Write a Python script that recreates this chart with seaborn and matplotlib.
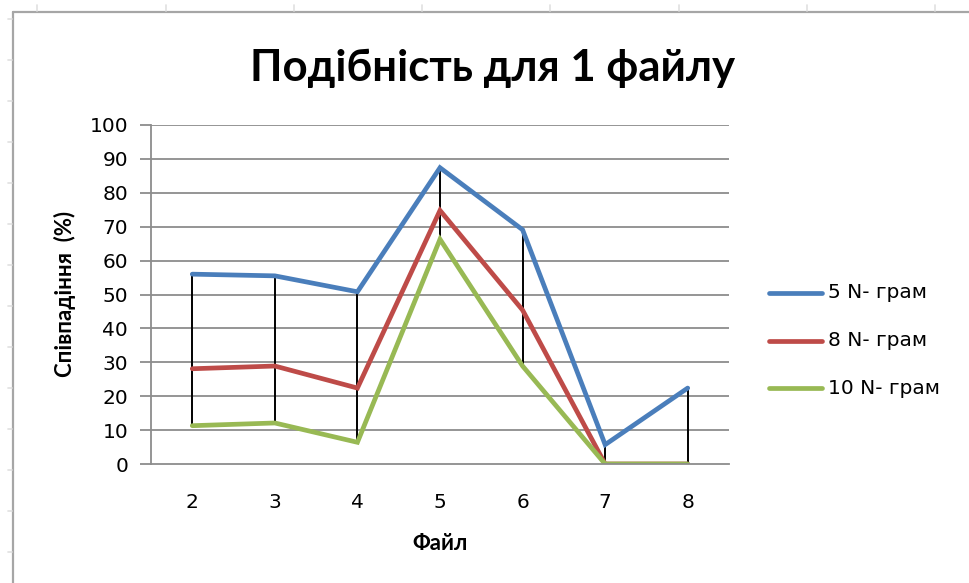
import matplotlib
matplotlib.use("Agg")
import matplotlib.pyplot as plt
from matplotlib.lines import Line2D
import numpy as np
import pandas as pd
import seaborn as sns

# Data: similarity (%) per file for three n-gram sizes
files = [2, 3, 4, 5, 6, 7, 8]
ngram5 = [56.0, 55.5, 50.8, 87.4, 69.1, 5.7, 22.4]
ngram8 = [28.1, 28.9, 22.4, 74.8, 45.4, 0.0, 0.0]
ngram10 = [11.3, 12.1, 6.4, 66.3, 28.9, 0.0, 0.0]
series_names = ["5 N- грам", "8 N- грам", "10 N- грам"]
y_ticks = list(range(0, 101, 10))

title = "Подібність для 1 файлу"
x_title = "Файл"
y_title = "Співпадіння  (%)"

colors = ["#4a7ebb", "#be4b48", "#98b954"]

df = pd.DataFrame({
    "Файл": files * 3,
    "value": ngram5 + ngram8 + ngram10,
    "series": [series_names[0]] * 7 + [series_names[1]] * 7 + [series_names[2]] * 7,
})

sns.set_theme(style="white")
plt.rcParams["font.family"] = ["DejaVu Sans"]
plt.rcParams["text.color"] = "black"
plt.rcParams["xtick.color"] = "black"
plt.rcParams["ytick.color"] = "black"

W, H = 969, 583
fig = plt.figure(figsize=(W / 100, H / 100), dpi=100)
fig.patch.set_facecolor("white")

# chart area border and faint sheet cell marks
border = "#a6a6a6"
fig.add_artist(Line2D([12.5 / W, 12.5 / W], [0, 1 - 12 / H], color=border, lw=1.6))
fig.add_artist(Line2D([12.5 / W, 1], [1 - 12 / H, 1 - 12 / H], color=border, lw=1.6))
for x in [37, 166, 294, 422, 550, 679, 807, 935]:
    fig.add_artist(Line2D([x / W, x / W], [1 - 5 / H, 1 - 11 / H], color="#e0e0e0", lw=1.2))
for y in [19, 60, 101, 142, 183, 224, 265, 306, 347, 388, 429, 470, 511, 552]:
    fig.add_artist(Line2D([8 / W, 12 / W], [1 - y / H, 1 - y / H], color="#e0e0e0", lw=1.2))

left, right, top, bottom = 151, 729, 125, 464
ax = fig.add_axes([left / W, 1 - bottom / H, (right - left) / W, (bottom - top) / H])

grid_c = "#8c8c8c"
for t in y_ticks[1:]:
    ax.axhline(t, color=grid_c, lw=1.3, zorder=0)

# high-low lines between max and min of the series at each file
hi = np.maximum.reduce([ngram5, ngram8, ngram10])
lo = np.minimum.reduce([ngram5, ngram8, ngram10])
ax.vlines(files, lo, hi, color="black", lw=1.4, zorder=1)

sns.lineplot(data=df, x="Файл", y="value", hue="series", palette=colors,
             linewidth=3.4, ax=ax, legend=False, zorder=2,
             solid_capstyle="round", solid_joinstyle="miter")

ax.set_xlim(1.5, 8.5)
ax.set_ylim(0, 100)
ax.set_yticks(y_ticks)
ax.set_xticks(files)
ax.set_xticklabels([str(f) for f in files])
ax.tick_params(axis="y", length=8, width=1.3, color=grid_c, labelcolor="black",
               direction="out", labelsize=14.5, pad=8.5, left=True)
ax.tick_params(axis="x", length=0, labelsize=14.5, labelcolor="black", pad=21)
for s in ["top", "right"]:
    ax.spines[s].set_visible(False)
for s in ["left", "bottom"]:
    ax.spines[s].set_color(grid_c)
    ax.spines[s].set_linewidth(1.3)
ax.set_xlabel("")
ax.set_ylabel("")

heading = ["Lato", "DejaVu Sans"]
fig.text(493 / W, 1 - 68 / H, title, ha="center", va="center",
         fontsize=31.5, fontweight="bold", family=heading, color="black")
fig.text(440 / W, 1 - 543 / H, x_title, ha="center", va="center",
         fontsize=16, fontweight="bold", family=heading, color="black")
fig.text(65 / W, 1 - 294 / H, y_title, ha="center", va="center", rotation=90,
         fontsize=16, fontweight="bold", family=heading, color="black")

# legend
for i, (name, c) in enumerate(zip(series_names, colors)):
    y = 1 - (293 + 47.5 * i) / H
    fig.add_artist(Line2D([769 / W, 822 / W], [y, y], color=c, lw=3.4,
                          solid_capstyle="round"))
    fig.text(828 / W, y, name, ha="left", va="center", fontsize=14.5, color="black")

fig.savefig("out.png", dpi=100, facecolor="white")
